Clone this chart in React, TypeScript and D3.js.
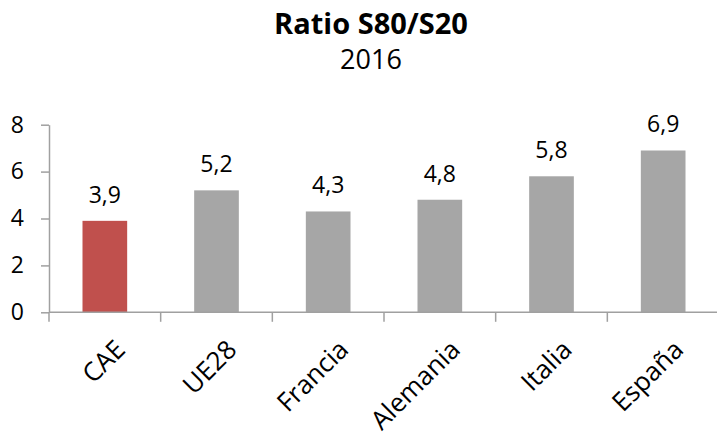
import React, { useEffect, useRef } from "react"
import { scaleBand, scaleLinear, axisLeft, select } from "d3"

const categories = ["CAE", "UE28", "Francia", "Alemania", "Italia", "España"]
const values = [3.9, 5.2, 4.3, 4.8, 5.8, 6.9]
const yTicks = [0, 2, 4, 6, 8]
const title = "Ratio S80/S20"
const subtitle = "2016"

const W = 717
const H = 445
const margin = { top: 124.7, right: -2, bottom: 445 - 312.3, left: 49 }
const FONT = "'Open Sans', 'Noto Sans', sans-serif"
const RED = "#C0504D"
const GREY = "#A6A6A6"
const AXIS = "#A0A0A0"

function fmt(v: number) {
  return v.toFixed(1).replace(".", ",")
}

export default function App() {
  const yAxisRef = useRef<SVGGElement>(null)

  const x = scaleBand<string>()
    .domain(categories)
    .range([margin.left, W - margin.right])
    .paddingInner(0.6)
    .paddingOuter(0.3)

  const y = scaleLinear()
    .domain([0, 8])
    .range([H - margin.bottom, margin.top])

  const step = x.step()
  const bw = x.bandwidth()
  const boundaries = categories.map(c => (x(c) as number) + bw / 2 - step / 2)
  boundaries.push(boundaries[boundaries.length - 1] + step)

  useEffect(() => {
    const g = select(yAxisRef.current)
    g.call(axisLeft(y).tickValues(yTicks).tickSize(8).tickSizeOuter(0).tickPadding(17).tickFormat(d => String(d)))
    g.selectAll("path, line").attr("stroke", AXIS).attr("stroke-width", 1.5)
    g.selectAll("text")
      .attr("font-family", FONT)
      .attr("font-size", 23)
      .attr("fill", "#000")
  }, [])

  const y0 = y(0)

  return (
    <svg width={W} height={H} style={{ position: "absolute", left: 0, top: 0, background: "#fff" }}>
      <text x={371} y={34} textAnchor="middle" fontFamily={FONT} fontWeight="bold" fontSize={29}>
        {title}
      </text>
      <text x={371} y={69} textAnchor="middle" fontFamily={FONT} fontSize={27}>
        {subtitle}
      </text>

      {categories.map((c, i) => (
        <rect
          key={c}
          x={x(c)}
          y={y(values[i])}
          width={bw}
          height={y0 - y(values[i])}
          fill={i === 0 ? RED : GREY}
        />
      ))}

      {categories.map((c, i) => (
        <text
          key={"v" + c}
          x={(x(c) as number) + bw / 2}
          y={y(values[i]) - 18}
          textAnchor="middle"
          fontFamily={FONT}
          fontSize={23}
        >
          {fmt(values[i])}
        </text>
      ))}

      <g ref={yAxisRef} transform={`translate(${margin.left},0)`} />

      <line x1={margin.left} x2={W} y1={y0} y2={y0} stroke={AXIS} strokeWidth={1.5} />
      {boundaries.map((b, i) => (
        <line key={"t" + i} x1={b} x2={b} y1={y0} y2={y0 + 9.5} stroke={AXIS} strokeWidth={1.5} />
      ))}

      {categories.map(c => {
        const cx = (x(c) as number) + bw / 2 + 9
        const cy = y0 + 26
        return (
          <text
            key={"l" + c}
            transform={`translate(${cx},${cy}) rotate(-45)`}
            textAnchor="end"
            dy="0.7em"
            fontFamily={FONT}
            fontSize={26}
          >
            {c}
          </text>
        )
      })}
    </svg>
  )
}
